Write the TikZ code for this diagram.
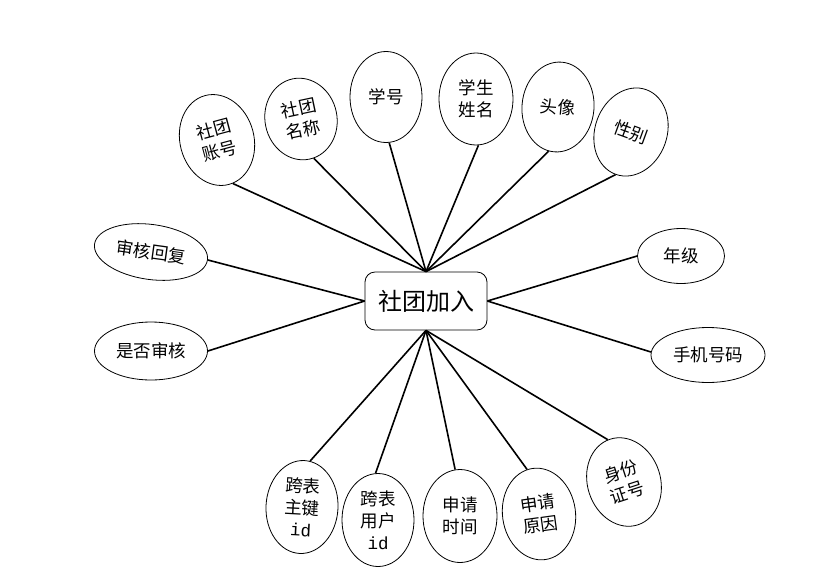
\documentclass[tikz,border=0pt]{standalone}
\usepackage{fontspec}
\setmainfont{Noto Sans CJK SC}
\newfontfamily\idfont{Liberation Mono}
\usetikzlibrary{shapes.geometric}
\tikzset{
  attr/.style={ellipse, draw=black, line width=0.8pt, inner sep=0pt, align=center,
    font=\fontsize{17.5}{22}\selectfont},
  lbl/.style={align=center, inner sep=0pt, font=\fontsize{17.5}{22}\selectfont},
  ent/.style={rectangle, rounded corners=10pt, draw=black, line width=0.8pt,
    minimum width=122pt, minimum height=58pt, inner sep=0pt,
    font=\fontsize{24}{28}\selectfont},
  link/.style={line width=1.6pt, black}
}
\begin{document}
\begin{tikzpicture}[x=1pt,y=-1pt]
\useasboundingbox (0,0) rectangle (819,587);
\node[ent] (c) at (426,301) {社团加入};

\node[attr, minimum width=92pt, minimum height=74pt, rotate=-75] (a1) at (217,140) {};
\node[lbl, rotate=15] (t1) at (217,140) {社团\\账号};
\node[attr, minimum width=82pt, minimum height=72pt, rotate=-78] (a2) at (301,119) {};
\node[lbl, rotate=12] (t2) at (301,119) {社团\\名称};
\node[attr, minimum width=72pt, minimum height=91pt] (a3) at (386,97) {学号};
\node[attr, minimum width=74pt, minimum height=92pt] (a4) at (476,99) {学生\\姓名};
\node[attr, minimum width=72pt, minimum height=90pt, rotate=-5] (a5) at (558,107) {头像};
\node[attr, minimum width=72pt, minimum height=90pt, rotate=-20] (a6) at (631,132) {性别};

\node[attr, minimum width=114pt, minimum height=55pt, rotate=-8] (l1) at (151,252) {审核回复};
\node[attr, minimum width=113pt, minimum height=58pt] (l2) at (151,351) {是否审核};

\node[attr, minimum width=87pt, minimum height=55pt] (r1) at (681,256) {年级};
\node[attr, minimum width=114pt, minimum height=55pt] (r2) at (708,355) {手机号码};

\node[attr, minimum width=72pt, minimum height=93pt, rotate=-3] (b1) at (302,507) {跨表\\主键\\{\idfont id}};
\node[attr, minimum width=72pt, minimum height=93pt] (b2) at (378,520) {跨表\\用户\\{\idfont id}};
\node[attr, minimum width=74pt, minimum height=93pt] (b3) at (460,516) {申请\\时间};
\node[attr, minimum width=73pt, minimum height=92pt, rotate=8] (b4) at (539,514) {申请\\原因};
\node[attr, minimum width=73pt, minimum height=90pt, rotate=18] (b5) at (624,482) {身份\\证号};

\draw[link] (a1.5) -- (c.north);
\draw[link] (a2.6) -- (c.north);
\draw[link] (a3.-86) -- (c.north);
\draw[link] (a4.-87.5) -- (c.north);
\draw[link] (a5.-97.5) -- (c.north);
\draw[link] (a6.-90) -- (c.north);
\draw[link] (b1.83) -- (c.south);
\draw[link] (b2.93.7) -- (c.south);
\draw[link] (b3.96) -- (c.south);
\draw[link] (b4.97) -- (c.south);
\draw[link] (b5.93) -- (c.south);
\draw[link] (l1.0) -- (c.west);
\draw[link] (l2.0) -- (c.west);
\draw[link] (r1.180) -- (c.east);
\draw[link] (r2.177) -- (c.east);
\end{tikzpicture}
\end{document}
